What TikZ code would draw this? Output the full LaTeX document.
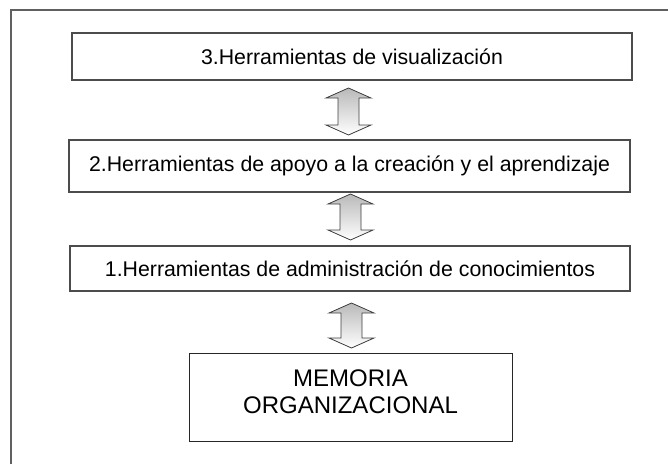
\documentclass[tikz,border=0pt]{standalone}
\usepackage{fontspec}
\setmainfont{Liberation Sans}
\begin{document}
\begin{tikzpicture}[x=1pt,y=-1pt,
  layerbox/.style={draw=gray!60!black, line width=1.3pt, inner sep=0pt, align=center,
    font=\fontsize{21.3}{25}\selectfont, fill=white},
  membox/.style={draw=black!85, line width=1pt, inner sep=0pt},
  memtext/.style={align=center, inner sep=0pt, font=\fontsize{24}{27}\selectfont},
  blockarrow/.style={draw=gray!50!black, line width=0.8pt, left color=gray!55, right color=white, shading angle=0}
]
\useasboundingbox (0,0) rectangle (668,464);
% outer frame (open at right and bottom)
\draw[gray!75!black, line width=1.6pt] (11,464) -- (11,10) -- (668,10);

\node[layerbox, minimum width=560pt, minimum height=47pt] (l3) at (352,56.5) {3.Herramientas de visualización};
\node[layerbox, minimum width=561pt, minimum height=52pt] (l2) at (349.5,166) {2.Herramientas de apoyo a la creación y el aprendizaje};
\node[layerbox, minimum width=560pt, minimum height=45pt] (l1) at (350,268.5) {1.Herramientas de administración de conocimientos};
\node[membox, minimum width=323pt, minimum height=88pt] (mem) at (350.5,397) {};
\node[memtext] (memt) at (350.5,392) {MEMORIA\\ORGANIZACIONAL};

% double block arrows
\newcommand{\dblarrow}[3]{%
  \path[blockarrow] (#1,#2) -- ++(22.5,10) -- ++(-12,0) -- (#1+10.5,#3-10) -- ++(12,0) -- (#1,#3)
    -- ++(-22.5,-10) -- ++(12,0) -- (#1-10.5,#2+10) -- ++(-12,0) -- cycle;}
\dblarrow{348.5}{88}{135}
\dblarrow{350.5}{194}{240}
\dblarrow{351.5}{303}{348}
\end{tikzpicture}
\end{document}
